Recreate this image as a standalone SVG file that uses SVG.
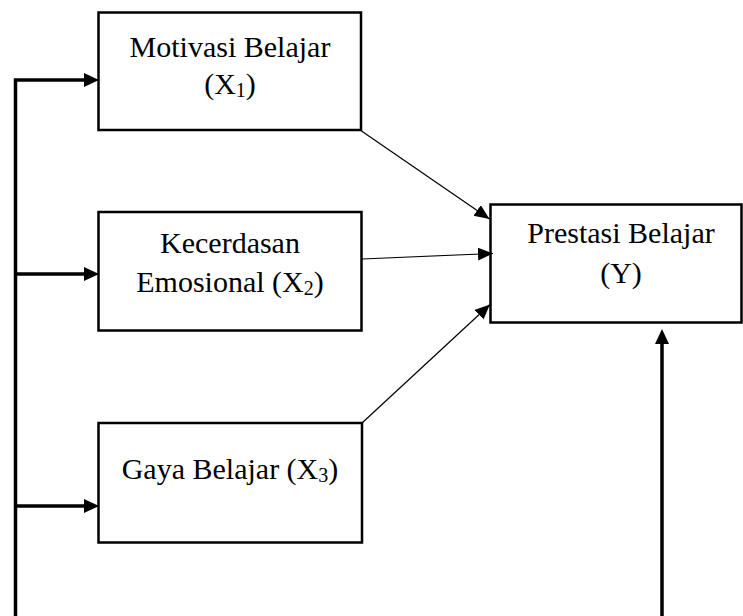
<svg xmlns="http://www.w3.org/2000/svg" width="743" height="616" viewBox="0 0 743 616">
<style>
.box{fill:#fff;stroke:#000;stroke-width:2.5}
.t{font-family:"Liberation Serif","Times New Roman",serif;font-size:30px;fill:#000;text-anchor:middle}
.sub{font-size:20px}
.thick{fill:none;stroke:#000;stroke-width:3.5;stroke-linejoin:miter}
.thin{fill:none;stroke:#000;stroke-width:1.2}
</style>
<defs>
<marker id="ah" markerUnits="userSpaceOnUse" markerWidth="16" markerHeight="14" refX="0" refY="7" orient="auto">
<path d="M0,0 L15,7 L0,14 z" fill="#000"/>
</marker>
<marker id="as" markerUnits="userSpaceOnUse" markerWidth="16" markerHeight="14" refX="15" refY="6.5" orient="auto">
<path d="M0,0 L15,6.5 L0,13 z" fill="#000"/>
</marker>
</defs>
<g id="n1">
<rect class="box" x="98.5" y="12.5" width="262.5" height="117.5"/>
<text class="t" x="230" y="57">Motivasi Belajar</text>
<text class="t" x="230" y="94">(X<tspan class="sub" dy="3">1</tspan><tspan dy="-3">)</tspan></text>
</g>
<g id="n2">
<rect class="box" x="98.5" y="212" width="263" height="118.5"/>
<text class="t" x="230" y="253">Kecerdasan</text>
<text class="t" x="230" y="292">Emosional (X<tspan class="sub" dy="3">2</tspan><tspan dy="-3">)</tspan></text>
</g>
<g id="n3">
<rect class="box" x="98.5" y="423" width="263.5" height="119.5"/>
<text class="t" x="230" y="479">Gaya Belajar (X<tspan class="sub" dy="3">3</tspan><tspan dy="-3">)</tspan></text>
</g>
<g id="ny">
<rect class="box" x="490.5" y="204.5" width="251" height="118"/>
<text class="t" x="621" y="243">Prestasi Belajar</text>
<text class="t" x="621" y="283">(Y)</text>
</g>
<g id="connectors">
<path class="thick" d="M15.5,616 V80 H84" marker-end="url(#ah)"/>
<path class="thick" d="M15.5,274 H84" marker-end="url(#ah)"/>
<path class="thick" d="M15.5,506 H84" marker-end="url(#ah)"/>
<path class="thick" d="M662,616 V344" marker-end="url(#ah)"/>
<path class="thin" d="M361.5,131 L489.5,219" marker-end="url(#as)"/>
<path class="thin" d="M362,259 L493,253.5" marker-end="url(#as)"/>
<path class="thin" d="M362,423 L490,304.5" marker-end="url(#as)"/>
</g>
</svg>
